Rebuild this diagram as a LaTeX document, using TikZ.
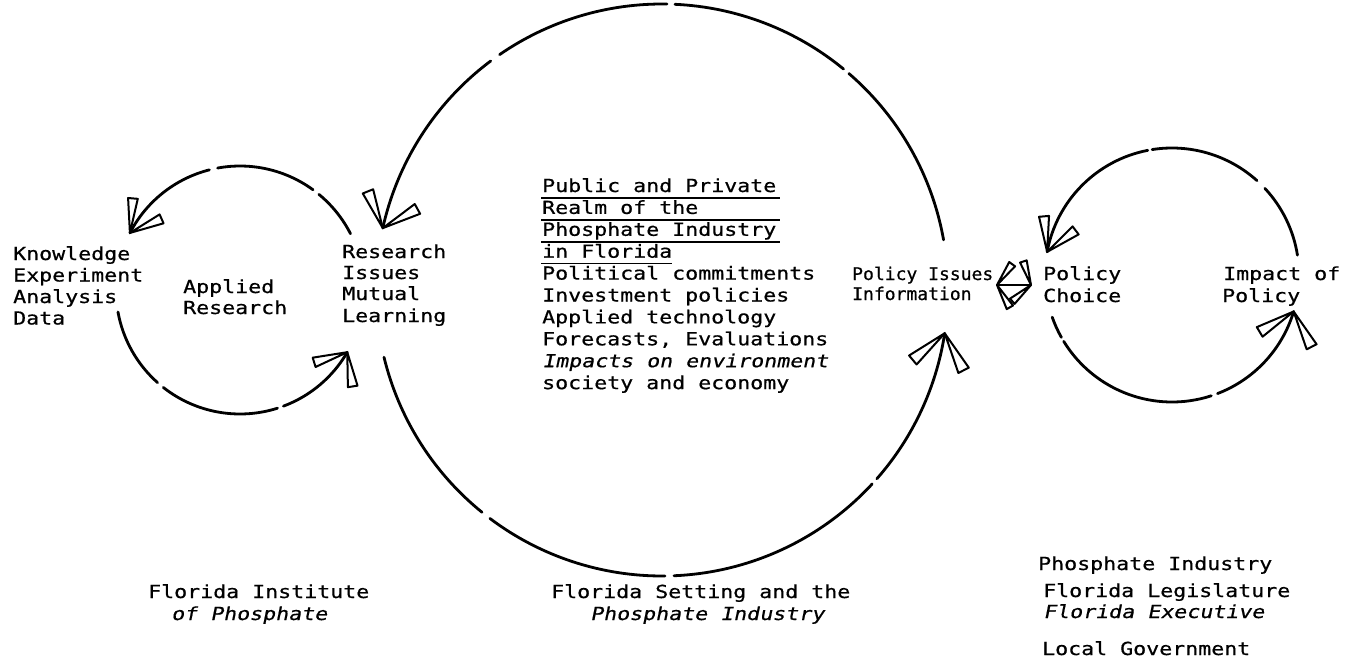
\documentclass[tikz,border=0pt]{standalone}
\usepackage{fontspec}
\newfontfamily\tw[FakeStretch=1.2,FakeBold=0.6]{DejaVu Sans Mono}
\newfontfamily\twi[FakeStretch=1.2,FakeSlant=0.2,FakeBold=0.6]{DejaVu Sans Mono}
\newfontfamily\twn[FakeStretch=1.03,FakeBold=0.6]{DejaVu Sans Mono}
\newcommand\arcseg[4]{\draw[loopline] ([shift={(#3:#2)}]#1) arc[start angle=#3, end angle=#4, radius=#2];}
\tikzset{
  txt/.style={font=\tw\fontsize{18}{22}\selectfont, inner sep=0pt, anchor=base west},
  txti/.style={txt, font=\twi\fontsize{18}{22}\selectfont},
  txtn/.style={txt, font=\twn\fontsize{17.5}{21}\selectfont},
  loopline/.style={line width=2.8pt, line cap=round},
  flapst/.style={line width=2pt, line join=round, fill=white},
  uline/.style={line width=1.4pt},
  pics/flaps/.style n args={3}{code={
    \draw[flapst] (0,0) -- (#1-8:#3) -- (#1+8:#3) -- cycle;
    \draw[flapst] (0,0) -- (#2-8:#3) -- (#2+8:#3) -- cycle;
  }}
}
\begin{document}
\begin{tikzpicture}[x=1pt,y=1pt]
\useasboundingbox (0,0) rectangle (1354,-662);
\fill[white] (0,0) rectangle (1354,-662);

% loop centres
\coordinate (cs) at (240,-290);
\coordinate (cb) at (662,-290);
\coordinate (cr) at (1172,-275);

% small loop (Applied Research)
\arcseg{cs}{124}{152.6}{104.3}
\arcseg{cs}{124}{100.4}{53.9}
\arcseg{cs}{124}{50.5}{27}
\arcseg{cs}{124}{190.2}{228.3}
\arcseg{cs}{124}{231.8}{287.6}
\arcseg{cs}{124}{290.5}{329.9}
\pic at ([shift={(152.6:124)}]cs) {flaps={85}{24}{35}};
\pic at ([shift={(329.9:124)}]cs) {flaps={197}{279}{35}};

% big loop
\arcseg{cb}{286}{167.5}{126.8}
\arcseg{cb}{286}{124.6}{89}
\arcseg{cb}{286}{87.4}{50.6}
\arcseg{cb}{286}{49.2}{10.1}
\arcseg{cb}{286}{193.6}{231}
\arcseg{cb}{286}{233}{270.6}
\arcseg{cb}{286}{272.4}{317.3}
\arcseg{cb}{286}{318.7}{351.3}
\pic at ([shift={(167.5:286)}]cb) {flaps={112}{29}{40}};
\pic at ([shift={(351.3:286)}]cb) {flaps={220}{297}{42}};

% right loop
\arcseg{cr}{127}{169.5}{101}
\arcseg{cr}{127}{99}{48}
\arcseg{cr}{127}{43}{9}
\arcseg{cr}{127}{199.4}{209.4}
\arcseg{cr}{127}{211.5}{288}
\arcseg{cr}{127}{291}{343.3}
\pic at ([shift={(169.5:127)}]cr) {flaps={95}{37}{36}};
\pic at ([shift={(343.3:127)}]cr) {flaps={211}{297}{40}};

% double arrowhead between Policy Issues and Policy Choice
\coordinate (dl) at (997,-285);
\coordinate (dr) at (1031,-285);
\draw[flapst] (dl) -- (dr);
\pic at (dl) {flaps={54}{-60}{26}};
\pic at (dr) {flaps={108}{221}{25}};

% left texts
\node[txt] (k1) at (13,-260) {Knowledge};
\node[txt] (k2) at (13,-281.5) {Experiment};
\node[txt] (k3) at (13,-303) {Analysis};
\node[txt] (k4) at (13,-324.5) {Data};
\node[txt] (ar1) at (183,-293) {Applied};
\node[txt] (ar2) at (183,-314) {Research};
\node[txt] (r1) at (342,-258) {Research};
\node[txt] (r2) at (342,-279) {Issues};
\node[txt] (r3) at (342,-300) {Mutual};
\node[txt] (r4) at (342,-322) {Learning};

% centre texts
\node[txt] (c1) at (542,-192) {Public and Private};
\node[txt] (c2) at (542,-213.9) {Realm of the};
\node[txt] (c3) at (542,-235.8) {Phosphate Industry};
\node[txt] (c4) at (542,-257.7) {in Florida};
\node[txt] (c5) at (542,-279.6) {Political commitments};
\node[txt] (c6) at (542,-301.5) {Investment policies};
\node[txt] (c7) at (542,-323.4) {Applied technology};
\node[txt] (c8) at (542,-345.3) {Forecasts, Evaluations};
\node[txti] (c9) at (542,-367.2) {Impacts on environment};
\node[txt] (c10) at (542,-389.1) {society and economy};
\draw[uline] (541,-198) -- (780,-198);
\draw[uline] (541,-220) -- (780,-220);
\draw[uline] (541,-242) -- (780,-242);
\draw[uline] (541,-263.5) -- (672,-263.5);

% policy texts
\node[txtn] (p1) at (852,-280) {Policy Issues};
\node[txtn] (p2) at (852,-300) {Information};
\node[txt] (pc1) at (1043,-280) {Policy};
\node[txt] (pc2) at (1043,-302) {Choice};
\node[txt] (ip1) at (1223,-280) {Impact of};
\node[txt] (ip2) at (1222,-302) {Policy};

% bottom labels
\node[txt] (b1) at (148,-598) {Florida Institute};
\node[txti] (b2) at (171,-620) {of Phosphate};
\node[txt] (b3) at (551,-598) {Florida Setting and the};
\node[txti] (b4) at (590,-620) {Phosphate Industry};
\node[txt] (b5) at (1038,-570) {Phosphate Industry};
\node[txt] (b6) at (1043,-597) {Florida Legislature};
\node[txti] (b7) at (1043,-618) {Florida Executive};
\node[txt] (b8) at (1042,-655) {Local Government};
\end{tikzpicture}
\end{document}
